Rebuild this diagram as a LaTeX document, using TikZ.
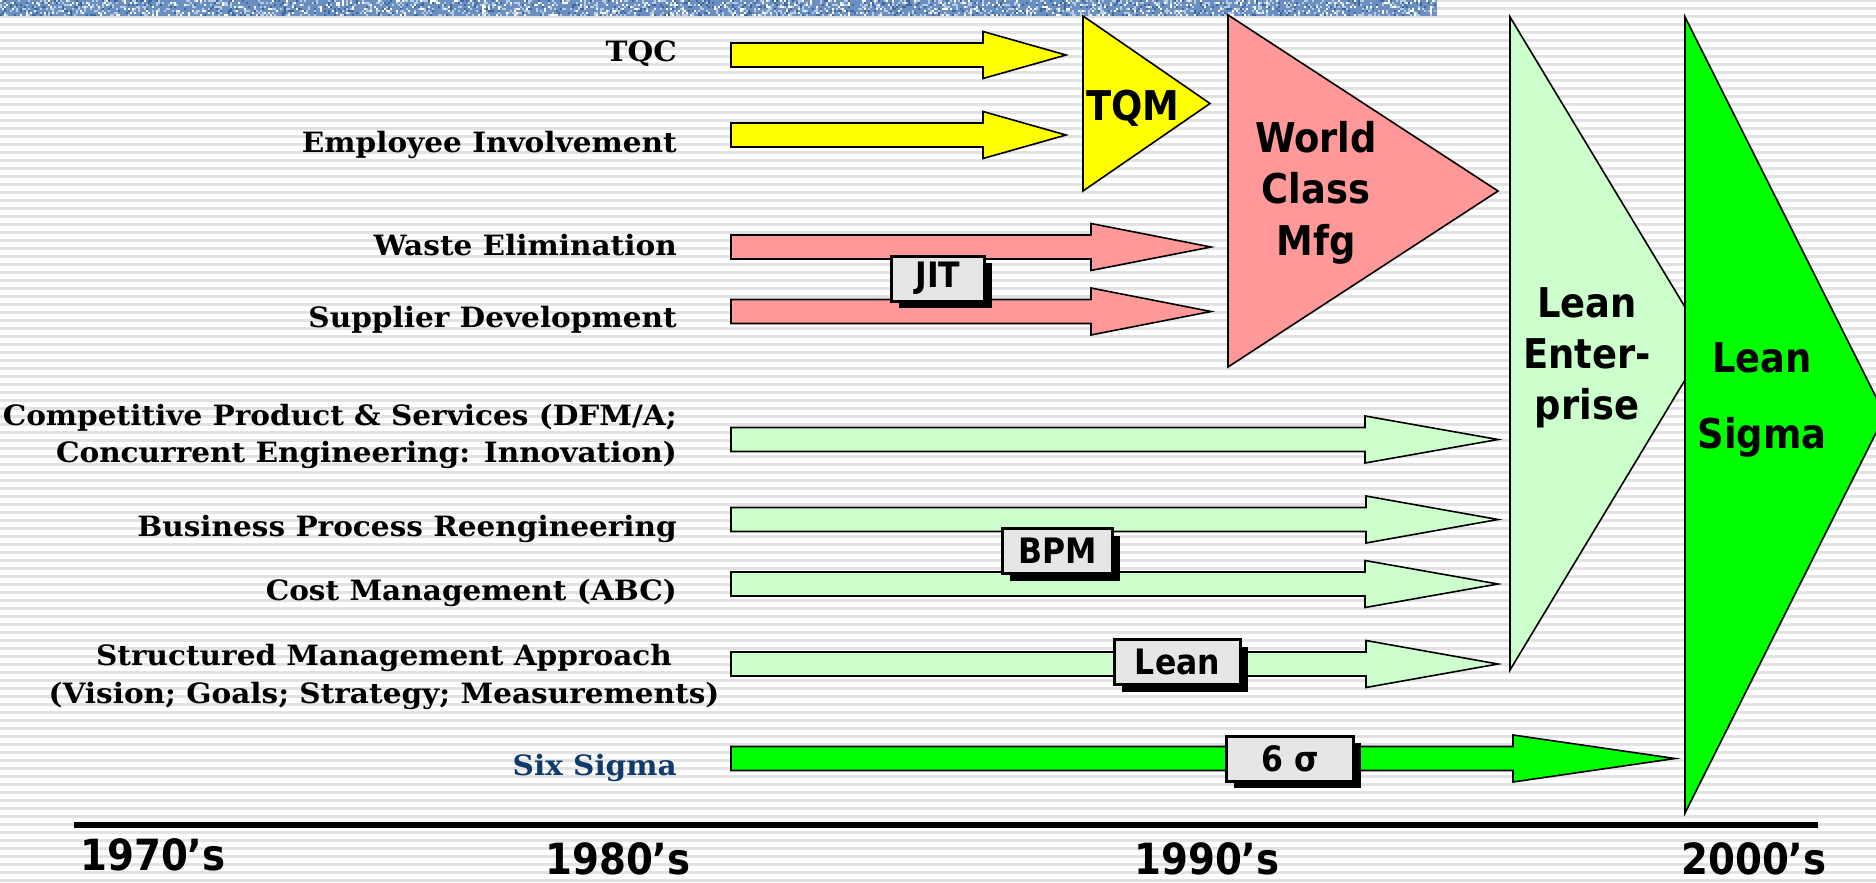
\documentclass[tikz,border=0pt]{standalone}
\usepackage{fontspec}
\usetikzlibrary{calc,shadows}

\newfontfamily\serifbf{DejaVu Serif}[FakeStretch=1.055]
\newfontfamily\sansbf{DejaVu Sans}[FakeStretch=0.9]

\definecolor{stripe}{HTML}{E2E2E2}
\definecolor{bandbase}{HTML}{6A8FC0}
\definecolor{bandlight}{HTML}{B8CCE4}
\definecolor{banddark}{HTML}{3E679C}
\definecolor{tqmyellow}{HTML}{FFFF00}
\definecolor{wcmpink}{HTML}{FF9999}
\definecolor{leangreen}{HTML}{CCFFCC}
\definecolor{sigmagreen}{HTML}{00FF00}
\definecolor{tagfill}{HTML}{E6E6E6}
\definecolor{navy}{HTML}{0F3A6E}

\tikzset{
  lbl/.style={font=\serifbf\bfseries\fontsize{28}{34}\selectfont, inner sep=0pt, anchor=base east},
  hd/.style={font=\sansbf\bfseries\fontsize{41}{50}\selectfont, inner sep=0pt, anchor=base},
  yr/.style={font=\sansbf\bfseries\fontsize{43}{50}\selectfont, inner sep=0pt, anchor=base west},
  outline/.style={draw=black, line width=1.6pt, line join=miter},
  tag/.style={draw=black, line width=3pt, fill=tagfill, inner sep=0pt,
    minimum height=45pt, font=\sansbf\bfseries\fontsize{35}{40}\selectfont,
    drop shadow={shadow xshift=7pt, shadow yshift=-7pt, fill=black, opacity=1}},
}

% block arrow: style, tail coordinate, tip coordinate, head length
\newcommand\blockarrow[4]{%
  \path[#1] let \p1=(#2), \p2=(#3) in
    (\x1,\y1+12pt) -- (\x2-#4,\y1+12pt) -- (\x2-#4,\y1+23.5pt) -- (\x2,\y2)
    -- (\x2-#4,\y1-23.5pt) -- (\x2-#4,\y1-12pt) -- (\x1,\y1-12pt) -- cycle;}

\begin{document}
\begin{tikzpicture}[x=1pt,y=-1pt]
\useasboundingbox (0,0) rectangle (1876,883);
\begin{scope}
\clip (0,0) rectangle (1876,883);

% ruled background
\fill[white] (0,0) rectangle (1876,883);
\foreach \k in {0,...,111}
  \fill[stripe] (0,{8*\k-0.75}) rectangle (1876,{8*\k+1.75});

% textured title band
\fill[bandbase] (0,0) rectangle (1437,16);
\pgfmathsetseed{42}
\foreach \i in {1,...,900}{
  \pgfmathsetmacro{\rx}{random(0,717)*2}
  \pgfmathsetmacro{\ry}{random(0,7)*2}
  \fill[banddark] (\rx,\ry) rectangle ++(2,2);}
\foreach \i in {1,...,1300}{
  \pgfmathsetmacro{\rx}{random(0,717)*2}
  \pgfmathsetmacro{\ry}{random(0,7)*2}
  \fill[bandlight] (\rx,\ry) rectangle ++(2,2);}
\foreach \i in {1,...,600}{
  \pgfmathsetmacro{\rx}{random(0,717)*2}
  \pgfmathsetmacro{\ry}{random(0,7)*2}
  \fill[white] (\rx,\ry) rectangle ++(2,2);}

% time axis
\coordinate (axis-l) at (74,825);
\coordinate (axis-r) at (1818,825);
\draw[line width=6pt] (axis-l) -- (axis-r);
\node[yr] (y70) at (80,870) {1970’s};
\node[yr] (y80) at (545,874) {1980’s};
\node[yr] (y90) at (1134,874) {1990’s};
\node[yr] (y00) at (1681,874) {2000’s};

% source labels
\node[lbl] (tqc) at (677,62) {TQC};
\node[lbl] (ei) at (677,152) {Employee Involvement};
\node[lbl] (we) at (677,255) {Waste Elimination};
\node[lbl] (sd) at (677,327) {Supplier Development};
\node[lbl] (cp1) at (677,425) {Competitive Product \& Services (DFM/A;};
\node[lbl] (cp2) at (677,462) {Concurrent Engineering: Innovation)};
\node[lbl] (bpr) at (677,536) {Business Process Reengineering};
\node[lbl] (cm) at (677,600) {Cost Management (ABC)};
\node[lbl, anchor=base] (sma1) at (384,665) {Structured Management Approach};
\node[lbl, anchor=base] (sma2) at (384,703) {(Vision; Goals; Strategy; Measurements)};
\node[lbl, text=navy] (ss) at (677,775) {Six Sigma};

% arrow end points
\coordinate (tqc-s) at (731,55);    \coordinate (tqc-t) at (1066,55);
\coordinate (ei-s) at (731,135);    \coordinate (ei-t) at (1066,135);
\coordinate (we-s) at (731,247);    \coordinate (we-t) at (1211,247);
\coordinate (sd-s) at (731,311.5);  \coordinate (sd-t) at (1211,311.5);
\coordinate (cp-s) at (731,439.5);  \coordinate (cp-t) at (1498,439.5);
\coordinate (bpr-s) at (731,519.5); \coordinate (bpr-t) at (1498,519.5);
\coordinate (cm-s) at (731,584);    \coordinate (cm-t) at (1498,584);
\coordinate (sma-s) at (731,664);   \coordinate (sma-t) at (1498,664);
\coordinate (ss-s) at (731,758.5);  \coordinate (ss-t) at (1675,758.5);

\blockarrow{outline, fill=tqmyellow}{tqc-s}{tqc-t}{83pt}
\blockarrow{outline, fill=tqmyellow}{ei-s}{ei-t}{83pt}
\blockarrow{outline, fill=wcmpink}{we-s}{we-t}{120pt}
\blockarrow{outline, fill=wcmpink}{sd-s}{sd-t}{120pt}
\blockarrow{outline, fill=leangreen}{cp-s}{cp-t}{133pt}
\blockarrow{outline, fill=leangreen}{bpr-s}{bpr-t}{132pt}
\blockarrow{outline, fill=leangreen}{cm-s}{cm-t}{133pt}
\blockarrow{outline, fill=leangreen}{sma-s}{sma-t}{132pt}
\blockarrow{outline, fill=sigmagreen}{ss-s}{ss-t}{162pt}

% stage triangles
\draw[outline, fill=tqmyellow] (1083,16) -- (1210,103.5) -- (1083,191) -- cycle;
\draw[outline, fill=wcmpink] (1228,15) -- (1498,191) -- (1228,367) -- cycle;
\draw[outline, fill=leangreen] (1510,17) -- (1707,343.5) -- (1510,670) -- cycle;
\draw[outline, fill=sigmagreen] (1685,17) -- (1885,415) -- (1685,813) -- cycle;

\node[hd] (tqm) at (1133,120) {TQM};
\node[hd] (wcm1) at (1316,152) {World};
\node[hd] (wcm2) at (1316,203) {Class};
\node[hd] (wcm3) at (1316,255) {Mfg};
\node[hd] (le1) at (1587,317) {Lean};
\node[hd] (le2) at (1587,368) {Enter-};
\node[hd] (le3) at (1587,419) {prise};
\node[hd] (ls1) at (1762,372) {Lean};
\node[hd] (ls2) at (1762,448) {Sigma};

% grouping tags
\node[tag, minimum width=93pt] (jit) at (938,278.5) {JIT};
\node[tag, minimum width=110pt] (bpm) at (1057.5,551) {BPM};
\node[tag, minimum width=126pt] (lean) at (1177.5,662) {Lean};
\node[tag, minimum width=127pt] (six) at (1290,758.5) {6 σ};
\end{scope}
\end{tikzpicture}
\end{document}
